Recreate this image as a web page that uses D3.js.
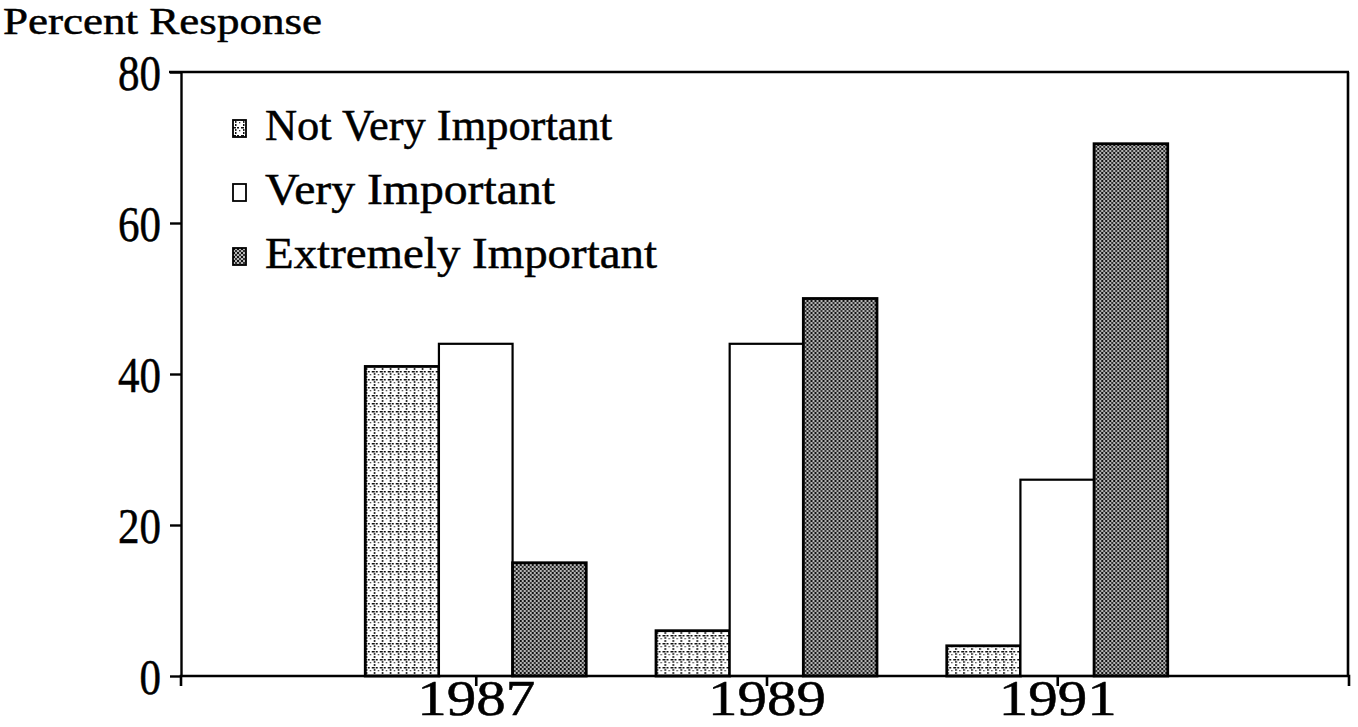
<!DOCTYPE html>
<html>
<head>
<meta charset="utf-8">
<script src="https://cdn.jsdelivr.net/npm/d3@7"></script>
<style>
  html, body { margin: 0; padding: 0; background: #fff; }
  svg { display: block; }
  text { font-family: "Liberation Serif", "Times New Roman", serif; fill: #000; stroke: #000; stroke-width: 0.5; }
</style>
</head>
<body>
<svg id="chart" width="1358" height="727"></svg>
<script>
// ---- data ----
const years = ["1987", "1989", "1991"];
const seriesNames = ["Not Very Important", "Very Important", "Extremely Important"];
const notVeryImportant = [41, 6, 4];
const veryImportant = [44, 44, 26];
const extremelyImportant = [15, 50, 70.5];
const yTicks = [0, 20, 40, 60, 80];
const yAxisTitle = "Percent Response";

const seriesValues = [notVeryImportant, veryImportant, extremelyImportant];

const svg = d3.select("#chart");
const mLeft = 181, mRight = 1348, mTop = 72, mBottom = 676;

const x0 = d3.scalePoint().domain(years).range([mLeft + 4, mRight]).padding(1);
const step = x0.step();
const x1 = d3.scaleBand().domain(seriesNames).range([-step * 0.38, step * 0.38]).paddingInner(0);
const y = d3.scaleLinear().domain([0, 80]).range([mBottom, mTop]);

// patterns
const defs = svg.append("defs");
const p1 = defs.append("pattern").attr("id", "pNVI").attr("patternUnits", "userSpaceOnUse")
  .attr("width", 8).attr("height", 8);
p1.append("rect").attr("width", 8).attr("height", 8).attr("fill", "#fff");
p1.append("rect").attr("x", 0).attr("y", 3).attr("width", 3).attr("height", 1.5).attr("fill", "#111");
p1.append("rect").attr("x", 4).attr("y", 3).attr("width", 2).attr("height", 1.5).attr("fill", "#111");
p1.append("rect").attr("x", 2).attr("y", 0).attr("width", 1.5).attr("height", 2).attr("fill", "#111");
p1.append("rect").attr("x", 2).attr("y", 5).attr("width", 1.5).attr("height", 2).attr("fill", "#222");
p1.append("rect").attr("x", 6).attr("y", 6).attr("width", 1.3).attr("height", 1.3).attr("fill", "#333");

const p3 = defs.append("pattern").attr("id", "pEI").attr("patternUnits", "userSpaceOnUse")
  .attr("width", 4).attr("height", 4);
p3.append("rect").attr("width", 4).attr("height", 4).attr("fill", "#b5b5b5");
p3.append("rect").attr("x", 0).attr("y", 0).attr("width", 2).attr("height", 2).attr("fill", "#111");
p3.append("rect").attr("x", 2).attr("y", 2).attr("width", 2).attr("height", 2).attr("fill", "#333");

const fills = ["url(#pNVI)", "#fff", "url(#pEI)"];

// frame: top and right lines
svg.append("line").attr("x1", mLeft - 12).attr("x2", mRight + 1).attr("y1", y(80)).attr("y2", y(80))
  .attr("stroke", "#000").attr("stroke-width", 2.4);
svg.append("line").attr("x1", mRight).attr("x2", mRight).attr("y1", y(80)).attr("y2", y(0))
  .attr("stroke", "#000").attr("stroke-width", 2.6);

// bars
const groups = svg.append("g").selectAll("g").data(years).join("g")
  .attr("transform", d => `translate(${x0(d)},0)`);
groups.selectAll("rect").data((d, i) => seriesNames.map((s, j) => ({ s, j, v: seriesValues[j][i] })))
  .join("rect")
  .attr("x", d => x1(d.s))
  .attr("width", x1.bandwidth())
  .attr("y", d => y(d.v))
  .attr("height", d => y(0) - y(d.v))
  .attr("fill", d => fills[d.j])
  .attr("stroke", "#000")
  .attr("stroke-width", d => d.j === 1 ? 2.2 : 2.8);

// axes
const yAxis = svg.append("g").attr("transform", `translate(${mLeft},0)`)
  .call(d3.axisLeft(y).tickValues(yTicks).tickSize(11).tickSizeOuter(0).tickPadding(9));
yAxis.selectAll("path,line").attr("stroke", "#000").attr("stroke-width", 2.4);
yAxis.selectAll("text").attr("font-size", 50).attr("font-family", "Liberation Serif")
  .attr("dy", "0.34em")
  .attr("textLength", d => String(d).length * 21.5)
  .attr("lengthAdjust", "spacingAndGlyphs");

const xAxis = svg.append("g").attr("transform", `translate(0,${mBottom})`)
  .call(d3.axisBottom(x0).tickSize(10).tickSizeOuter(10).tickPadding(4));
xAxis.select(".domain").attr("d", `M${mLeft},10V0H${mRight + 1}V10`);
xAxis.selectAll("path,line").attr("stroke", "#000").attr("stroke-width", 2.6);
xAxis.selectAll("text").attr("font-size", 50).attr("font-family", "Liberation Serif")
  .attr("y", 39).attr("dy", 0)
  .attr("textLength", 118)
  .attr("lengthAdjust", "spacingAndGlyphs");

// y axis title
svg.append("text").attr("x", 3).attr("y", 34).attr("font-size", 38)
  .attr("textLength", 319).attr("lengthAdjust", "spacingAndGlyphs").text(yAxisTitle);

// legend
const legendWidths = [347, 290, 392];
const legend = svg.append("g");
seriesNames.forEach((s, j) => {
  const g = legend.append("g").attr("transform", `translate(233,${140 + j * 64})`);
  g.append("rect").attr("x", 0).attr("y", -20).attr("width", 13).attr("height", 17)
    .attr("fill", fills[j]).attr("stroke", "#000").attr("stroke-width", 1.8);
  g.append("text").attr("x", 32).attr("y", 0).attr("font-size", 44)
    .attr("textLength", legendWidths[j]).attr("lengthAdjust", "spacingAndGlyphs").text(s);
});
</script>
</body>
</html>
